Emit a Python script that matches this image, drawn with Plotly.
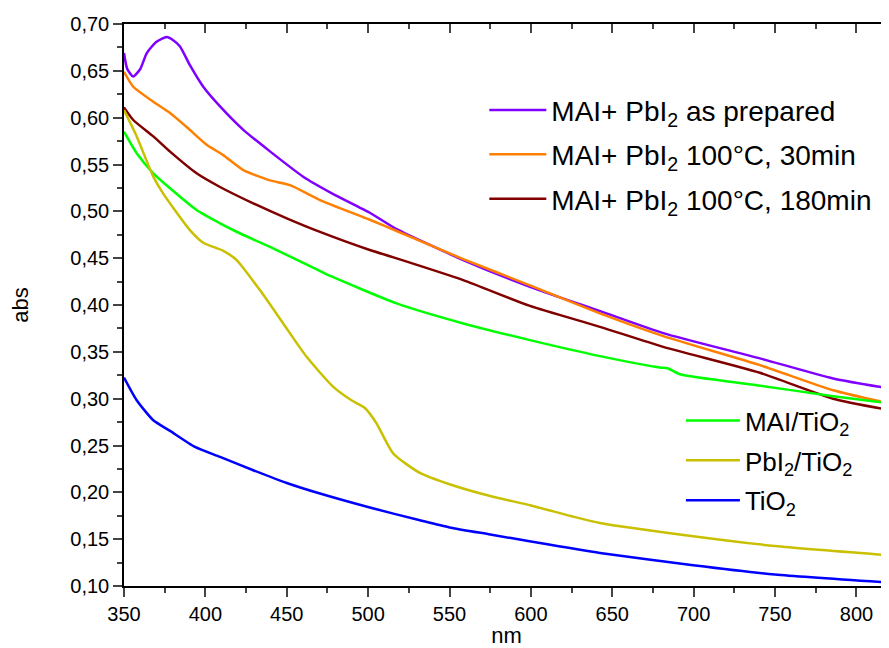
import plotly.graph_objects as go

# ---- data ----
nm_prep = [350, 352, 355.7, 360, 364, 370, 376.2, 380, 384.4, 390.5, 398.7, 409, 423.3, 439.7, 460.1, 478, 501, 517.5, 558.4, 599.4, 642.4, 681.3, 740.7, 785.7, 820]
abs_prep = [0.669, 0.652, 0.644, 0.652, 0.669, 0.681, 0.686, 0.683, 0.676, 0.656, 0.633, 0.612, 0.587, 0.564, 0.537, 0.519, 0.4985, 0.481, 0.448, 0.4194, 0.3935, 0.370, 0.343, 0.3216, 0.311]

nm_30 = [350, 355.7, 368, 378.3, 388.5, 400.8, 411, 423.3, 439.7, 452, 470.4, 501, 517.5, 558.4, 599.4, 642.4, 681.3, 740.7, 785.7, 820]
abs_30 = [0.649, 0.633, 0.617, 0.605, 0.590, 0.571, 0.560, 0.544, 0.533, 0.528, 0.512, 0.491, 0.479, 0.449, 0.421, 0.391, 0.3668, 0.3358, 0.309, 0.295]

nm_180 = [350, 355.7, 368, 378.3, 394.6, 409, 429.4, 450, 470.4, 501, 517.5, 558.4, 599.4, 642.4, 681.3, 740.7, 785.7, 820]
abs_180 = [0.611, 0.5975, 0.580, 0.5637, 0.5406, 0.526, 0.5085, 0.4925, 0.478, 0.4587, 0.4498, 0.4266, 0.399, 0.3767, 0.3553, 0.3276, 0.300, 0.288]

nm_mai = [350, 357.8, 368, 378.3, 394.6, 409, 419.2, 439.7, 468.4, 476.8, 517.5, 558.4, 599.4, 642.4, 679.2, 684, 691.5, 738.7, 785.7, 820]
abs_mai = [0.585, 0.562, 0.5406, 0.5246, 0.5014, 0.4872, 0.4782, 0.462, 0.438, 0.431, 0.4017, 0.3803, 0.3625, 0.3454, 0.3333, 0.3325, 0.326, 0.3144, 0.3027, 0.295]

nm_pbi = [350, 357.8, 368, 374, 390.5, 398.7, 411, 419.2, 433.5, 447.8, 462.2, 478.6, 490, 498, 505, 515.4, 531.8, 550, 575, 600, 625, 642.4, 699.7, 749.9, 820]
abs_pbi = [0.608, 0.580, 0.537, 0.5192, 0.480, 0.4665, 0.4578, 0.448, 0.4159, 0.3803, 0.3447, 0.3126, 0.298, 0.290, 0.274, 0.2415, 0.2207, 0.2086, 0.196, 0.186, 0.1745, 0.1673, 0.1531, 0.1427, 0.1328]

nm_tio = [350, 357.8, 368, 378.3, 393.6, 409, 429.4, 450, 470.4, 501, 531.8, 550, 575, 600, 642.4, 699.7, 749.9, 820]
abs_tio = [0.3226, 0.2984, 0.277, 0.2656, 0.2485, 0.2378, 0.2236, 0.210, 0.1987, 0.1838, 0.1702, 0.1625, 0.155, 0.1475, 0.1353, 0.1221, 0.1122, 0.1036]

x_ticks = [350, 400, 450, 500, 550, 600, 650, 700, 750, 800]
y_ticks = [0.10, 0.15, 0.20, 0.25, 0.30, 0.35, 0.40, 0.45, 0.50, 0.55, 0.60, 0.65, 0.70]
y_ticklabels = ["0,10", "0,15", "0,20", "0,25", "0,30", "0,35", "0,40", "0,45", "0,50", "0,55", "0,60", "0,65", "0,70"]

FONT = "Arial, Liberation Sans, sans-serif"

series = [
    (nm_prep, abs_prep, "MAI+ PbI<sub>2</sub> as prepared", "#8000ff", "legend"),
    (nm_30, abs_30, "MAI+ PbI<sub>2</sub> 100°C, 30min", "#ff8000", "legend"),
    (nm_180, abs_180, "MAI+ PbI<sub>2</sub> 100°C, 180min", "#800000", "legend"),
    (nm_mai, abs_mai, "MAI/TiO<sub>2</sub>", "#00ff00", "legend2"),
    (nm_pbi, abs_pbi, "PbI<sub>2</sub>/TiO<sub>2</sub>", "#c8c000", "legend2"),
    (nm_tio, abs_tio, "TiO<sub>2</sub>", "#0000ff", "legend2"),
]

fig = go.Figure()
for i, (xs, ys, name, col, lg) in enumerate(series):
    fig.add_trace(go.Scatter(x=xs, y=ys, mode="lines", name=name, legendgroup="g%d" % i,
                             line=dict(color=col, width=2.5, shape="spline", smoothing=0.6),
                             legend=lg))

# invisible trace on top axis so it is drawn
fig.add_trace(go.Scatter(x=[350, 820], y=[0.1, 0.1], xaxis="x2", mode="lines",
                         line=dict(width=0), showlegend=False, hoverinfo="skip"))

fig.update_layout(
    width=881, height=640,
    margin=dict(l=116, r=0, t=16, b=62),
    paper_bgcolor="white", plot_bgcolor="white",
    font=dict(family=FONT, color="black"),
    xaxis=dict(range=[350, 820], tickvals=x_ticks, ticks="outside", ticklen=9, tickwidth=1.5,
               showline=True, linecolor="black", linewidth=1.5, showgrid=False, zeroline=False,
               tickfont=dict(size=20, family=FONT),
               minor=dict(ticks="outside", ticklen=5, tickwidth=1.5, dtick=25, tick0=350, showgrid=False),
               title=dict(text="nm", font=dict(size=22, family=FONT), standoff=2)),
    xaxis2=dict(range=[350, 820], overlaying="x", side="top", anchor="y", tickvals=x_ticks,
                ticks="inside", ticklen=9, tickwidth=1.5, showticklabels=False,
                showline=True, linecolor="black", linewidth=1.5, showgrid=False, zeroline=False,
                minor=dict(ticks="inside", ticklen=5, tickwidth=1.5, dtick=25, tick0=350, showgrid=False)),
    yaxis=dict(range=[0.10, 0.70], tickvals=y_ticks, ticktext=y_ticklabels, ticks="outside",
               ticklen=9, tickwidth=1.5, showline=True, linecolor="black", linewidth=1.5,
               showgrid=False, zeroline=False, tickfont=dict(size=20, family=FONT),
               minor=dict(ticks="outside", ticklen=5, tickwidth=1.5, dtick=0.025, tick0=0.1, showgrid=False),
               title=dict(text="abs", font=dict(size=22, family=FONT), standoff=37)),
    legend=dict(x=0.471, y=0.891, xanchor="left", yanchor="top", bgcolor="rgba(0,0,0,0)",
                font=dict(size=28, family=FONT), itemwidth=57, tracegroupgap=5),
    legend2=dict(x=0.728, y=0.336, xanchor="left", yanchor="top", bgcolor="rgba(0,0,0,0)",
                 font=dict(size=26, family=FONT), itemwidth=54, tracegroupgap=3),
)

fig.write_html("out.html")
